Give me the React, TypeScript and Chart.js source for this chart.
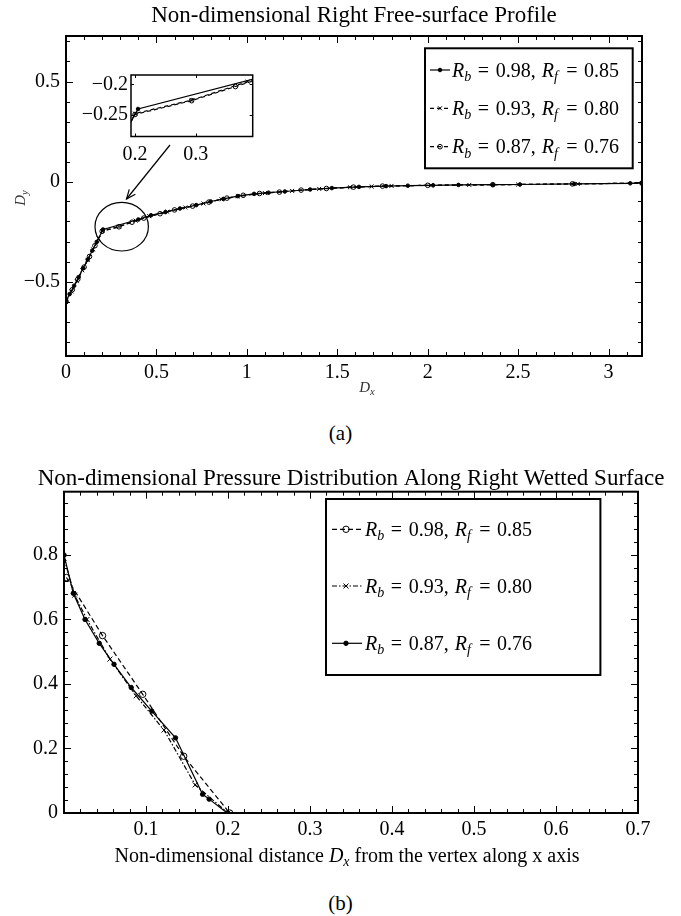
import React, { useEffect, useRef } from 'react';
import { Chart, registerables } from 'chart.js';

Chart.register(...registerables);

const FONT = "'Liberation Serif', 'DejaVu Serif', 'Times New Roman', serif";

// ---------- Figure (a): free-surface profile ----------
const titleA = 'Non-dimensional Right Free-surface Profile';
const a1X = [0, 0.02, 0.045, 0.07, 0.095, 0.12, 0.145, 0.17, 0.205, 0.40, 0.47, 0.55, 0.63, 0.72, 0.80, 0.87, 0.95, 1.04, 1.12, 1.21, 1.35, 1.47, 1.62, 1.77, 1.89, 2.03, 2.17, 2.36, 2.51, 2.81, 3.12, 3.185];
const a1Y = [-0.598, -0.563, -0.521, -0.478, -0.434, -0.390, -0.346, -0.302, -0.240, -0.190, -0.169, -0.153, -0.135, -0.118, -0.100, -0.087, -0.073, -0.062, -0.056, -0.050, -0.040, -0.033, -0.027, -0.023, -0.021, -0.019, -0.017, -0.016, -0.015, -0.012, -0.009, -0.008];
const a2X = [0, 0.03, 0.06, 0.09, 0.12, 0.15, 0.18, 0.2, 0.293, 0.385, 0.46, 0.56, 0.66, 0.76, 0.86, 0.95, 1.10, 1.25, 1.40, 1.57, 1.69, 1.80, 2.02, 2.23, 2.50, 2.83, 3.185];
const a2Y = [-0.602, -0.550, -0.498, -0.444, -0.392, -0.339, -0.285, -0.2475, -0.2255, -0.1955, -0.173, -0.151, -0.130, -0.110, -0.089, -0.074, -0.058, -0.047, -0.037, -0.029, -0.025, -0.022, -0.019, -0.017, -0.015, -0.012, -0.008];
const a3X = [0, 0.035, 0.065, 0.10, 0.13, 0.16, 0.2, 0.293, 0.365, 0.43, 0.52, 0.60, 0.70, 0.79, 0.89, 0.98, 1.07, 1.18, 1.30, 1.44, 1.59, 1.75, 2.00, 2.36, 2.80, 3.185];
const a3Y = [-0.600, -0.541, -0.489, -0.428, -0.375, -0.321, -0.249, -0.2265, -0.2035, -0.183, -0.161, -0.142, -0.123, -0.103, -0.083, -0.069, -0.060, -0.053, -0.043, -0.035, -0.028, -0.023, -0.019, -0.016, -0.012, -0.008];
const aXTicks = [0, 0.5, 1, 1.5, 2, 2.5, 3];
const aYTicks = [-0.5, 0, 0.5];
const aXRange = [0, 3.185];
const aYRange = [-0.8725, 0.7275];
// zoom annotation (data coordinates)
const zoomCircleCenter = [0.308, -0.226];
const arrowTail = [0.575, 0.1825];
const arrowHead = [0.3346, -0.0875];

// inset
const insetXRange = [0.1934, 0.3934];
const insetYRange = [-0.2848, -0.1847];
const insetXTicks = [0.2, 0.3];
const insetYTicks = [-0.25, -0.2];

// ---------- Figure (b): pressure distribution ----------
const titleB = 'Non-dimensional Pressure Distribution Along Right Wetted Surface';
const b1X = [0.003, 0.047, 0.096, 0.146, 0.202];
const b1Y = [0.73, 0.55, 0.368, 0.176, 0];
const b2X = [0, 0.013, 0.028, 0.056, 0.088, 0.122, 0.16, 0.2];
const b2Y = [0.79, 0.675, 0.60, 0.477, 0.363, 0.257, 0.087, 0];
const b3X = [0, 0.0113, 0.0256, 0.043, 0.061, 0.082, 0.107, 0.136, 0.169, 0.177, 0.199];
const b3Y = [0.8, 0.681, 0.60, 0.526, 0.461, 0.389, 0.316, 0.233, 0.058, 0.043, 0];
const bXTicks = [0.1, 0.2, 0.3, 0.4, 0.5, 0.6, 0.7];
const bYTicks = [0, 0.2, 0.4, 0.6, 0.8];
const bXRange = [0, 0.7];
const bYRange = [0, 0.996];

// legend values
const rbValues = ['0.98', '0.93', '0.87'];
const rfValues = ['0.85', '0.80', '0.76'];

// ---------- helpers ----------
type Part = { t?: string; it?: boolean; sub?: boolean; gap?: number };

const pts = (xs: number[], ys: number[]) => xs.map((x, i) => ({ x, y: ys[i] }));
const fmt = (v: any) => {
  const n = Math.round(Number(v) * 1000) / 1000;
  return String(n).replace('-', '\u2212');
};

function fontFor(p: Part, size: number) {
  const s = p.sub ? size * 0.7 : size;
  return `${p.it ? 'italic ' : ''}${s}px ${FONT}`;
}

function drawRich(ctx: CanvasRenderingContext2D, parts: Part[], x: number, y: number, size: number, align: 'left' | 'center') {
  const widths = parts.map((p) => {
    if (p.gap !== undefined) return p.gap * size;
    ctx.font = fontFor(p, size);
    return ctx.measureText(p.t || '').width;
  });
  const total = widths.reduce((a, b) => a + b, 0);
  let cx = align === 'center' ? x - total / 2 : x;
  ctx.textAlign = 'left';
  ctx.textBaseline = 'alphabetic';
  parts.forEach((p, i) => {
    if (p.gap === undefined) {
      ctx.font = fontFor(p, size);
      ctx.fillText(p.t || '', cx, p.sub ? y + size * 0.22 : y);
    }
    cx += widths[i];
  });
}

function legendParts(i: number): Part[] {
  return [
    { t: 'R', it: true }, { t: 'b', it: true, sub: true }, { gap: 0.33 }, { t: '=' }, { gap: 0.33 },
    { t: rbValues[i] + ',' }, { gap: 0.3 },
    { t: 'R', it: true }, { t: 'f', it: true, sub: true }, { gap: 0.42 }, { t: '=' }, { gap: 0.33 },
    { t: rfValues[i] },
  ];
}

function drawMarker(ctx: CanvasRenderingContext2D, style: string, x: number, y: number, r: number, fill: string, bw: number) {
  ctx.save();
  ctx.setLineDash([]);
  ctx.lineWidth = bw;
  ctx.strokeStyle = '#000';
  ctx.beginPath();
  if (style === 'crossRot') {
    const o = Math.cos(Math.PI / 4) * r;
    ctx.moveTo(x - o, y - o); ctx.lineTo(x + o, y + o);
    ctx.moveTo(x - o, y + o); ctx.lineTo(x + o, y - o);
    ctx.stroke();
  } else {
    ctx.arc(x, y, r, 0, Math.PI * 2);
    if (fill && fill !== 'transparent') { ctx.fillStyle = fill; ctx.fill(); }
    ctx.stroke();
  }
  ctx.restore();
}

type Decor = {
  id: string;
  xMajor: number[]; yMajor: number[];
  xMinor?: number; yMinor?: number;
  majorLen: number; minorLen: number;
  frameWidth: number;
  whiteArea?: boolean;
  title?: { text: string; y: number; size: number };
  legend?: { box: number[]; rows: number[]; sample: number[]; markerX: number; textX: number; size: number; frame: number };
  labels?: { parts: Part[]; x: number; y: number; size: number; rotate?: boolean; color?: string }[];
  extra?: (chart: any, ctx: CanvasRenderingContext2D) => void;
};

function makeDecor(d: Decor) {
  return {
    id: d.id,
    beforeDatasetsDraw(chart: any) {
      if (!d.whiteArea) return;
      const { left, right, top, bottom } = chart.chartArea;
      const ctx = chart.ctx;
      ctx.save();
      ctx.fillStyle = '#fff';
      ctx.fillRect(left, top, right - left, bottom - top);
      ctx.restore();
    },
    afterDatasetsDraw(chart: any) {
      const ctx: CanvasRenderingContext2D = chart.ctx;
      const { left, right, top, bottom } = chart.chartArea;
      const xs = chart.scales.x;
      const ys = chart.scales.y;
      ctx.save();
      ctx.strokeStyle = '#000';
      ctx.lineWidth = 1;
      ctx.setLineDash([]);
      const seg = (x0: number, y0: number, x1: number, y1: number) => {
        ctx.beginPath(); ctx.moveTo(x0, y0); ctx.lineTo(x1, y1); ctx.stroke();
      };
      const xTick = (v: number, len: number) => {
        const px = Math.round(xs.getPixelForValue(v)) + 0.5;
        if (px < left - 0.1 || px > right + 0.1) return;
        seg(px, bottom, px, bottom - len);
        seg(px, top, px, top + len);
      };
      const yTick = (v: number, len: number) => {
        const py = Math.round(ys.getPixelForValue(v)) + 0.5;
        if (py < top - 0.1 || py > bottom + 0.1) return;
        seg(left, py, left + len, py);
        seg(right, py, right - len, py);
      };
      if (d.xMinor) {
        for (let k = Math.ceil(xs.min / d.xMinor - 1e-6); k * d.xMinor <= xs.max + 1e-9; k++) xTick(k * d.xMinor, d.minorLen);
      }
      if (d.yMinor) {
        for (let k = Math.ceil(ys.min / d.yMinor - 1e-6); k * d.yMinor <= ys.max + 1e-9; k++) yTick(k * d.yMinor, d.minorLen);
      }
      d.xMajor.forEach((v) => xTick(v, d.majorLen));
      d.yMajor.forEach((v) => yTick(v, d.majorLen));
      ctx.lineWidth = d.frameWidth;
      ctx.strokeRect(left, top, right - left, bottom - top);

      if (d.title) {
        ctx.fillStyle = '#000';
        ctx.font = `${d.title.size}px ${FONT}`;
        ctx.textAlign = 'center';
        ctx.textBaseline = 'alphabetic';
        ctx.fillText(d.title.text, (left + right) / 2, d.title.y);
      }

      if (d.extra) d.extra(chart, ctx);

      if (d.legend) {
        const L = d.legend;
        const [l, t, r, b] = L.box;
        ctx.fillStyle = '#fff';
        ctx.fillRect(l, t, r - l, b - t);
        ctx.lineWidth = L.frame;
        ctx.strokeStyle = '#000';
        ctx.strokeRect(l, t, r - l, b - t);
        chart.data.datasets.forEach((ds: any, i: number) => {
          const ry = L.rows[i];
          ctx.lineWidth = ds.borderWidth;
          ctx.setLineDash(ds.borderDash || []);
          seg(L.sample[0], ry, L.sample[1], ry);
          ctx.setLineDash([]);
          drawMarker(ctx, ds.pointStyle, L.markerX, ry, ds.pointRadius, ds.pointBackgroundColor, ds.pointBorderWidth);
          ctx.fillStyle = '#000';
          drawRich(ctx, legendParts(i), L.textX, ry + L.size * 0.33, L.size, 'left');
        });
      }

      (d.labels || []).forEach((lb) => {
        ctx.save();
        ctx.fillStyle = lb.color || '#000';
        if (lb.rotate) {
          ctx.translate(lb.x + lb.size * 0.33, lb.y);
          ctx.rotate(-Math.PI / 2);
          drawRich(ctx, lb.parts, 0, 0, lb.size, 'center');
        } else {
          drawRich(ctx, lb.parts, lb.x, lb.y, lb.size, 'center');
        }
        ctx.restore();
      });
      ctx.restore();
    },
  };
}

function axis(range: number[], ticks: number[], fit: (s: any) => void, padding: number, size = 20) {
  return {
    type: 'linear' as const,
    min: range[0],
    max: range[1],
    afterBuildTicks: (s: any) => { s.ticks = ticks.map((v) => ({ value: v })); },
    afterFit: fit,
    grid: { display: false, drawTicks: false, drawOnChartArea: false },
    border: { display: false },
    ticks: {
      font: { size, family: FONT },
      color: '#000',
      padding,
      maxRotation: 0,
      autoSkip: false,
      callback: fmt,
    },
  };
}

const lineA = (data: any[], dash: number[], style: string, r: number, fill: string) => ({
  data,
  showLine: true,
  borderColor: '#000',
  borderWidth: 1.2,
  borderDash: dash,
  pointStyle: style,
  pointRadius: r,
  pointBorderWidth: 1,
  pointBackgroundColor: fill,
  pointBorderColor: '#000',
  fill: false,
  tension: 0,
});

function datasetsA() {
  return [
    lineA(pts(a1X, a1Y), [], 'circle', 1.8, '#000'),
    lineA(pts(a2X, a2Y), [4, 3], 'crossRot', 2.8, '#000'),
    lineA(pts(a3X, a3Y), [4, 3], 'circle', 2.3, 'transparent'),
  ];
}

const noPlugins = { legend: { display: false }, tooltip: { enabled: false }, title: { display: false } };

function configA(): any {
  return {
    type: 'scatter',
    data: { datasets: datasetsA() },
    options: {
      responsive: false,
      animation: false,
      events: [],
      layout: { padding: { left: 0, right: 39, top: 36, bottom: 0 } },
      scales: {
        x: axis(aXRange, aXTicks, (s: any) => { s.height = 44; }, 5),
        y: axis(aYRange, aYTicks, (s: any) => { s.width = 66; }, 6),
      },
      plugins: noPlugins,
    },
    plugins: [
      makeDecor({
        id: 'decorA', xMajor: aXTicks, yMajor: aYTicks, xMinor: 0.1, yMinor: 0.1,
        majorLen: 7, minorLen: 4, frameWidth: 2,
        title: { text: titleA, y: 22, size: 23 },
        legend: { box: [425, 48.3, 632.7, 168.3], rows: [70, 108.3, 146.7], sample: [430, 450], markerX: 440, textX: 452, size: 20, frame: 2 },
        labels: [
          { parts: [{ t: 'D', it: true }, { t: 'y', it: true, sub: true }], x: 20, y: 198, size: 15, rotate: true, color: '#333' },
          { parts: [{ t: 'D', it: true }, { t: 'x', it: true, sub: true }], x: 367, y: 392, size: 15, color: '#333' },
        ],
        extra: (chart, ctx) => {
          const xs = chart.scales.x, ys = chart.scales.y;
          ctx.save();
          ctx.lineWidth = 1.2;
          ctx.strokeStyle = '#000';
          ctx.beginPath();
          ctx.ellipse(xs.getPixelForValue(zoomCircleCenter[0]), ys.getPixelForValue(zoomCircleCenter[1]), 26.7, 24.3, 0, 0, Math.PI * 2);
          ctx.stroke();
          const tx = xs.getPixelForValue(arrowTail[0]), ty = ys.getPixelForValue(arrowTail[1]);
          const hx = xs.getPixelForValue(arrowHead[0]), hy = ys.getPixelForValue(arrowHead[1]);
          ctx.beginPath(); ctx.moveTo(tx, ty); ctx.lineTo(hx, hy); ctx.stroke();
          const ang = Math.atan2(hy - ty, hx - tx);
          const len = 10;
          ctx.beginPath();
          ctx.moveTo(hx - len * Math.cos(ang - 0.4), hy - len * Math.sin(ang - 0.4));
          ctx.lineTo(hx, hy);
          ctx.lineTo(hx - len * Math.cos(ang + 0.4), hy - len * Math.sin(ang + 0.4));
          ctx.stroke();
          ctx.restore();
        },
      }),
    ],
  };
}

function configInset(): any {
  return {
    type: 'scatter',
    data: { datasets: datasetsA() },
    options: {
      responsive: false,
      animation: false,
      events: [],
      layout: { padding: { left: 0, right: 7.3, top: 10.7, bottom: 0 } },
      scales: {
        x: axis(insetXRange, insetXTicks, (s: any) => { s.height = 33.5; }, 6),
        y: axis(insetYRange, insetYTicks, (s: any) => { s.width = 71; }, 3),
      },
      plugins: noPlugins,
    },
    plugins: [
      makeDecor({ id: 'decorI', xMajor: insetXTicks, yMajor: insetYTicks, majorLen: 3, minorLen: 0, frameWidth: 1.5, whiteArea: true }),
    ],
  };
}

function configB(): any {
  return {
    type: 'scatter',
    data: {
      datasets: [
        lineA(pts(b1X, b1Y), [5, 3], 'circle', 3.2, 'transparent'),
        lineA(pts(b2X, b2Y), [5, 2, 1.5, 2], 'crossRot', 3.5, '#000'),
        lineA(pts(b3X, b3Y), [], 'circle', 2.2, '#000'),
      ],
    },
    options: {
      responsive: false,
      animation: false,
      events: [],
      layout: { padding: { left: 0, right: 43, top: 51.7, bottom: 0 } },
      scales: {
        x: axis(bXRange, bXTicks, (s: any) => { s.height = 67; }, 5),
        y: axis(bYRange, bYTicks, (s: any) => { s.width = 64; }, 6),
      },
      plugins: noPlugins,
    },
    plugins: [
      makeDecor({
        id: 'decorB', xMajor: bXTicks, yMajor: bYTicks, xMinor: 0.02, yMinor: 0.04,
        majorLen: 7, minorLen: 4, frameWidth: 2,
        title: { text: titleB, y: 45, size: 23 },
        legend: { box: [326, 59, 600.4, 235], rows: [89.3, 146, 203.3], sample: [332, 362], markerX: 346, textX: 365, size: 20, frame: 2 },
        labels: [
          {
            parts: [{ t: 'Non-dimensional distance ' }, { t: 'D', it: true }, { t: 'x', it: true, sub: true }, { t: ' from the vertex along x axis' }],
            x: 347, y: 421.5, size: 20,
          },
        ],
      }),
    ],
  };
}

export default function App() {
  const refA = useRef<HTMLCanvasElement>(null);
  const refI = useRef<HTMLCanvasElement>(null);
  const refB = useRef<HTMLCanvasElement>(null);

  useEffect(() => {
    const charts: Chart[] = [];
    if (refA.current) charts.push(new Chart(refA.current, configA()));
    if (refI.current) charts.push(new Chart(refI.current, configInset()));
    if (refB.current) charts.push(new Chart(refB.current, configB()));
    return () => charts.forEach((c) => c.destroy());
  }, []);

  const caption: React.CSSProperties = {
    position: 'absolute', left: 0, width: 681, textAlign: 'center',
    fontFamily: FONT, fontSize: 21, lineHeight: '24px', color: '#000',
  };

  return (
    <div style={{ position: 'absolute', left: 0, top: 0, width: 681, height: 916, background: '#fff' }}>
      <canvas ref={refA} width={681} height={400} style={{ position: 'absolute', left: 0, top: 0, width: 681, height: 400 }} />
      <canvas ref={refI} width={200} height={110} style={{ position: 'absolute', left: 60, top: 60, width: 200, height: 110 }} />
      <div style={{ ...caption, top: 421 }}>(a)</div>
      <canvas ref={refB} width={681} height={440} style={{ position: 'absolute', left: 0, top: 440, width: 681, height: 440 }} />
      <div style={{ ...caption, top: 891 }}>(b)</div>
    </div>
  );
}
